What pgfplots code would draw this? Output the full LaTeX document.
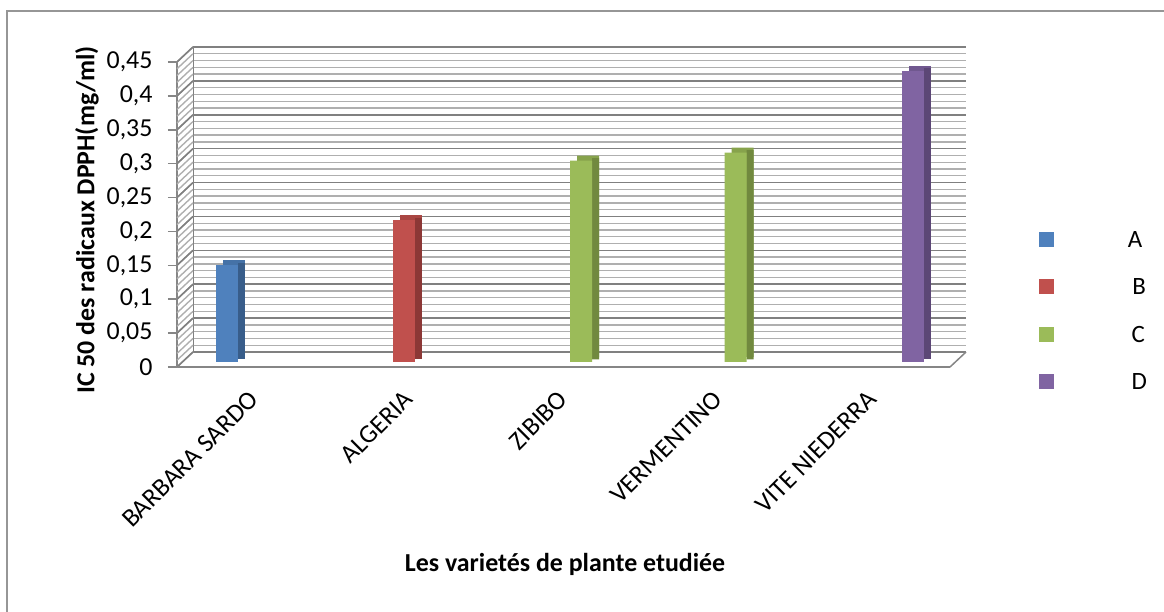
\documentclass[border=0pt]{standalone}
\usepackage{pgfplots}
\pgfplotsset{compat=1.18}
\usepackage{fontspec}
\setmainfont{Carlito}

\definecolor{serA}{HTML}{4F81BD}
\definecolor{serAside}{HTML}{385D8A}
\definecolor{serAtop}{HTML}{4572A7}
\definecolor{serB}{HTML}{C0504D}
\definecolor{serBside}{HTML}{8C3836}
\definecolor{serBtop}{HTML}{A94643}
\definecolor{serC}{HTML}{9BBB59}
\definecolor{serCside}{HTML}{71893F}
\definecolor{serCtop}{HTML}{87A34C}
\definecolor{serD}{HTML}{8064A2}
\definecolor{serDside}{HTML}{5C4776}
\definecolor{serDtop}{HTML}{70588F}
\definecolor{gridmajor}{RGB}{128,128,128}
\definecolor{gridminor}{RGB}{175,175,175}
\definecolor{axisgray}{RGB}{134,134,134}
\definecolor{framegray}{RGB}{150,150,150}

\newcommand{\lblfont}{\fontsize{26}{30}\selectfont}
\newcommand{\legfont}{\fontsize{25}{29}\selectfont}

\begin{document}
\begin{tikzpicture}
% outer frame of the chart area
\draw[framegray, line width=1.3bp] (7bp,-20bp) rectangle (1190bp,601bp);

% back wall of the 3D plot area, carrying the grid
\begin{axis}[
  at={(193bp,260bp)}, anchor=south west,
  scale only axis, width=773bp, height=305bp,
  xmin=-0.5, xmax=4.5, ymin=0, ymax=0.45,
  xtick=\empty,
  ytick={0,0.05,0.1,0.15,0.2,0.25,0.3,0.35,0.4,0.45},
  minor y tick num=4,
  yticklabels={},
  major tick length=0pt, minor tick length=0pt,
  ymajorgrids, yminorgrids,
  major grid style={gridmajor, line width=1.6bp},
  minor grid style={gridminor, line width=1.4bp},
  axis line style={draw=none},
]
\draw[gridmajor, line width=1.5bp] (rel axis cs:0,0) -- (rel axis cs:0,1);
\end{axis}

% front axis with the bars
\begin{axis}[
  at={(177bp,245bp)}, anchor=south west,
  scale only axis, width=773bp, height=305bp,
  xmin=-0.5, xmax=4.5, ymin=0, ymax=0.45,
  clip=false,
  axis x line*=bottom, axis y line*=left,
  axis line style={axisgray, line width=1.5bp},
  xtick={0,1,2,3,4},
  xticklabels={BARBARA SARDO, ALGERIA, ZIBIBO, VERMENTINO, VITE NIEDERRA},
  x tick style={draw=none},
  xticklabel style={rotate=45, anchor=east, font=\lblfont, xshift=3bp},
  xticklabel shift=19bp,
  ytick={0,0.05,0.1,0.15,0.2,0.25,0.3,0.35,0.4,0.45},
  yticklabel style={font=\lblfont, xshift=-12bp, /pgf/number format/fixed,
    /pgf/number format/use comma, /pgf/number format/assume math mode=true},
  y tick style={axisgray, line width=1.5bp},
  tick align=outside, major tick length=9bp,
  ylabel={IC 50 des radicaux DPPH(mg/ml)},
  xlabel={Les varietés de plante etudiée},
  every axis y label/.style={at={(axis description cs:-0.1164,0.482)},
    rotate=90, anchor=center, font=\lblfont\bfseries},
  every axis x label/.style={at={(axis description cs:0.502,-0.649)},
    anchor=center, font=\lblfont\bfseries},
  legend style={at={(axis description cs:1.1151,0.444)}, anchor=north west,
    draw=none, fill=none, inner sep=0pt, row sep=32bp,
    nodes={inner sep=0pt, text height=15bp, text depth=0bp, font=\legfont}},
  legend cell align=left,
]
% side wall and floor edges
\pgfplotsinvokeforeach{0,...,45}{
  \draw[gridminor, line width=1.4bp] (axis cs:-0.5,0.01*#1) -- ++(16bp,15bp);
}
\pgfplotsinvokeforeach{0,5,...,45}{
  \draw[gridmajor, line width=1.6bp] (axis cs:-0.5,0.01*#1) -- ++(16bp,15bp);
}
\draw[axisgray, line width=1.5bp] (axis cs:4.5,0) -- ++(16bp,15bp);

% series A
\addplot[ybar, draw=none, fill=serAtop, bar width=22bp, bar shift=-20.5bp, yshift=10bp, forget plot]
  coordinates {(0,0.143)};
\addplot[ybar, draw=none, fill=serAside, bar width=7bp, bar shift=-13bp, yshift=7.5bp, forget plot]
  coordinates {(0,0.143)};
\addplot[ybar, draw=none, fill=serA, bar width=22bp, bar shift=-27.5bp, yshift=5bp,
  legend image code/.code={\fill[serA] (0bp,-12bp) rectangle (15bp,3bp);}]
  coordinates {(0,0.143)};
\addlegendentry{\hspace*{66bp}\makebox[30bp]{A}}

% series B
\addplot[ybar, draw=none, fill=serBtop, bar width=22bp, bar shift=2bp, yshift=10bp, forget plot]
  coordinates {(1,0.209)};
\addplot[ybar, draw=none, fill=serBside, bar width=7bp, bar shift=9.5bp, yshift=7.5bp, forget plot]
  coordinates {(1,0.209)};
\addplot[ybar, draw=none, fill=serB, bar width=22bp, bar shift=-5bp, yshift=5bp,
  legend image code/.code={\fill[serB] (0bp,-12bp) rectangle (15bp,3bp);}]
  coordinates {(1,0.209)};
\addlegendentry{\hspace*{70bp}\makebox[30bp]{B}}

% series C
\addplot[ybar, draw=none, fill=serCtop, bar width=22bp, bar shift=24.5bp, yshift=10bp, forget plot]
  coordinates {(2,0.297) (3,0.309)};
\addplot[ybar, draw=none, fill=serCside, bar width=7bp, bar shift=32bp, yshift=7.5bp, forget plot]
  coordinates {(2,0.297) (3,0.309)};
\addplot[ybar, draw=none, fill=serC, bar width=22bp, bar shift=17.5bp, yshift=5bp,
  legend image code/.code={\fill[serC] (0bp,-12bp) rectangle (15bp,3bp);}]
  coordinates {(2,0.297) (3,0.309)};
\addlegendentry{\hspace*{69bp}\makebox[30bp]{C}}

% series D
\addplot[ybar, draw=none, fill=serDtop, bar width=22bp, bar shift=47bp, yshift=10bp, forget plot]
  coordinates {(4,0.430)};
\addplot[ybar, draw=none, fill=serDside, bar width=7bp, bar shift=54.5bp, yshift=7.5bp, forget plot]
  coordinates {(4,0.430)};
\addplot[ybar, draw=none, fill=serD, bar width=22bp, bar shift=40bp, yshift=5bp,
  legend image code/.code={\fill[serD] (0bp,-12bp) rectangle (15bp,3bp);}]
  coordinates {(4,0.430)};
\addlegendentry{\hspace*{70bp}\makebox[30bp]{D}}
\end{axis}

\pgfresetboundingbox
\useasboundingbox (0,0) rectangle (1164bp,612bp);
\end{tikzpicture}
\end{document}
